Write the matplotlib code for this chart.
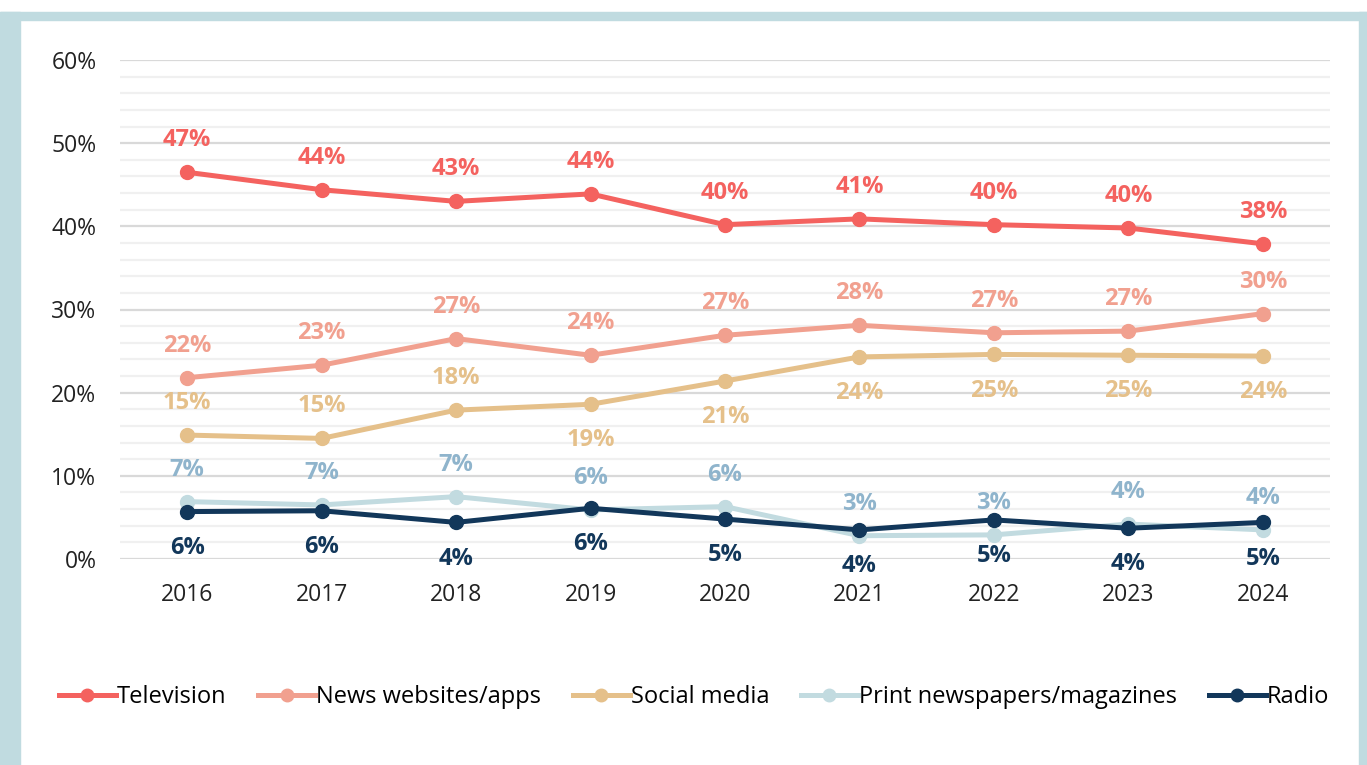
import numpy as np
import matplotlib; matplotlib.use("Agg"); import matplotlib.pyplot as plt
from matplotlib.patches import Rectangle
from matplotlib.ticker import MultipleLocator, FuncFormatter

plt.rcParams["font.family"] = ["Open Sans", "DejaVu Sans"]

years = [2016, 2017, 2018, 2019, 2020, 2021, 2022, 2023, 2024]
series = ["Television", "News websites/apps", "Social media",
          "Print newspapers/magazines", "Radio"]
television = [46.5, 44.4, 43.0, 43.9, 40.2, 40.9, 40.2, 39.8, 37.9]
news_sites = [21.8, 23.3, 26.5, 24.5, 26.9, 28.1, 27.2, 27.4, 29.5]
social = [14.9, 14.5, 17.9, 18.6, 21.4, 24.3, 24.6, 24.5, 24.4]
print_media = [6.9, 6.5, 7.5, 5.9, 6.3, 2.8, 2.9, 4.2, 3.5]
radio = [5.7, 5.8, 4.4, 6.1, 4.8, 3.5, 4.7, 3.7, 4.4]
# the labels printed on the chart
tv_lbl = ["47%", "44%", "43%", "44%", "40%", "41%", "40%", "40%", "38%"]
news_lbl = ["22%", "23%", "27%", "24%", "27%", "28%", "27%", "27%", "30%"]
social_lbl = ["15%", "15%", "18%", "19%", "21%", "24%", "25%", "25%", "24%"]
print_lbl = ["7%", "7%", "7%", "6%", "6%", "3%", "3%", "4%", "4%"]
radio_lbl = ["6%", "6%", "4%", "6%", "5%", "4%", "5%", "4%", "5%"]

line_cols = ["#f4625f", "#f1a08f", "#e5c08a", "#c2dbe0", "#12375a"]
text_cols = ["#f4625f", "#f1a08f", "#e5c08a", "#8fb4cc", "#12375a"]
# +1 label above, -1 below
sides = [[1] * 9, [1] * 9, [1, 1, 1, -1, -1, -1, -1, -1, -1], [1] * 9, [-1] * 9]

fig = plt.figure(figsize=(13.67, 7.65), dpi=100)
# light blue frame
bc = "#c0dbe0"
fig.patches.append(Rectangle((0, 0), 20 / 1367, 753 / 765, transform=fig.transFigure, color=bc, zorder=0))
fig.patches.append(Rectangle((0, 745 / 765), 1, 8 / 765, transform=fig.transFigure, color=bc, zorder=0))
fig.patches.append(Rectangle((1359 / 1367, 0), 8 / 1367, 753 / 765, transform=fig.transFigure, color=bc, zorder=0))

ax = fig.add_axes([120 / 1367, 1 - 559 / 765, 1210 / 1367, 499 / 765])
ax.set_xlim(2015.5, 2024.5); ax.set_ylim(0, 60)
for s in ax.spines.values():
    s.set_visible(False)
ax.yaxis.set_major_locator(MultipleLocator(10))
ax.yaxis.set_minor_locator(MultipleLocator(2))
ax.yaxis.set_major_formatter(FuncFormatter(lambda v, p: f"{v:.0f}%"))
ax.grid(axis="y", which="major", color="#d9d9d9", lw=1.6, zorder=0)
ax.grid(axis="y", which="minor", color="#f0f0f0", lw=1.6, zorder=0)
ax.tick_params(axis="both", which="both", length=0, labelsize=16.5, colors="#222222")
ax.tick_params(axis="y", pad=17)
ax.tick_params(axis="x", pad=17)
ax.set_xticks(years)

data = [television, news_sites, social, print_media, radio]
labels = [tv_lbl, news_lbl, social_lbl, print_lbl, radio_lbl]
for i, (vals, lbls) in enumerate(zip(data, labels)):
    ax.plot(years, vals, color=line_cols[i], lw=3.6, marker="o", ms=10,
            label=series[i], zorder=3 + (i == 4))
    for x, v, t, sd in zip(years, vals, lbls, sides[i]):
        off = 23 if sd > 0 else -26
        ax.annotate(t, (x, v), xytext=(0, off), textcoords="offset points",
                    ha="center", va="center", fontsize=17, fontweight="bold",
                    color=text_cols[i], zorder=6)

fig.legend(loc="center", bbox_to_anchor=(694 / 1367, 1 - 697 / 765), ncol=5,
           frameon=False, fontsize=17, handlelength=2.4, handletextpad=0.05,
           columnspacing=1.35, markerscale=0.9)
fig.savefig("out.png", dpi=100)
